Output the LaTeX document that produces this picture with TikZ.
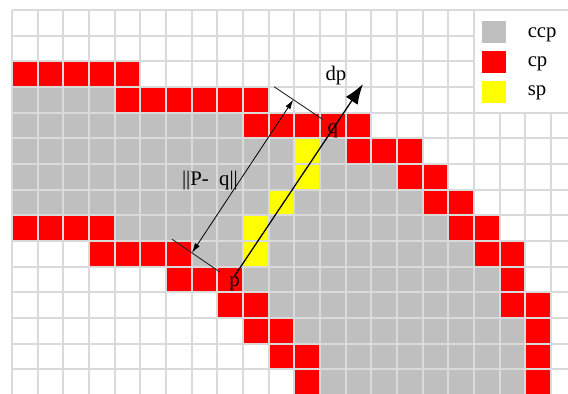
\documentclass[tikz,border=0pt]{standalone}
\usepackage{fontspec}
\setmainfont{Liberation Serif}
\usetikzlibrary{arrows.meta, positioning}
\definecolor{ccpgray}{RGB}{191,191,191}
\definecolor{gridgray}{RGB}{218,218,218}
\definecolor{cpred}{RGB}{255,0,0}
\definecolor{spyellow}{RGB}{255,255,0}

\begin{document}
\begin{tikzpicture}[
      gridline/.style={draw=gridgray, line width=2.4pt},
      tickline/.style={draw=black!85, line width=1pt},
      distarr/.style={{Latex[length=0.38cm,width=0.22cm]}-{Latex[length=0.38cm,width=0.22cm]}, line width=0.9pt},
      dirarr/.style={-{Latex[length=0.78cm,width=0.55cm]}, line width=1.4pt},
      lbl/.style={font=\fontsize{23}{26}\selectfont, inner sep=1pt},
      legendkey/.style={minimum width=0.94cm, minimum height=0.86cm, inner sep=0pt}
    ]
    \useasboundingbox (-0.47,0.39) rectangle (21.66,-14.93);
    \clip (-0.47,0.39) rectangle (21.66,-14.93);

    \foreach \r/\a/\b in {3/0/3, 4/0/8, 5/0/12, 6/0/14, 7/0/15, 8/4/16, 9/7/17,
                          10/9/18, 11/10/18, 12/11/19, 13/12/19, 14/12/19}
      \fill[ccpgray] (\a,-\r) rectangle (\b+1,-\r-1);
    \foreach \r/\a/\b in {2/0/4, 3/4/9, 4/9/13, 5/13/15, 6/15/16, 7/16/17, 8/0/3, 8/17/18,
                          9/3/6, 9/18/19, 10/6/8, 10/19/19, 11/8/9, 11/19/20, 12/9/10,
                          12/20/20, 13/10/11, 13/20/20, 14/11/11, 14/20/20}
      \fill[cpred] (\a,-\r) rectangle (\b+1,-\r-1);
    \foreach \c/\r in {11/5, 11/6, 10/7, 9/8, 9/9}
      \fill[spyellow] (\c,-\r) rectangle (\c+1,-\r-1);

    \foreach \i in {0,...,22} \draw[gridline] (\i,0) -- (\i,-15);
    \foreach \j in {0,...,15} \draw[gridline] (0,-\j) -- (22,-\j);

    \fill[white] (18.045,-0.045) rectangle (22,-3.955);
    \node[legendkey, fill=ccpgray] (keyccp) at (18.76,-0.86) {};
    \node[legendkey, fill=cpred, below=0.3cm of keyccp] (keycp) {};
    \node[legendkey, fill=spyellow, below=0.3cm of keycp] (keysp) {};
    \node[lbl, anchor=base west] (txtccp) at (20.05,-1.08) {ccp};
    \node[lbl, anchor=base west] (txtcp) at (20.05,-2.21) {cp};
    \node[lbl, anchor=base west] (txtsp) at (20.05,-3.35) {sp};

    \node[lbl, anchor=base] (p) at (8.67,-10.78) {p};
    \node[lbl, anchor=base] (q) at (12.5,-4.80) {q};
    \node[lbl, anchor=base] (dp) at (12.62,-2.73) {dp};
    \node[lbl, anchor=base] (dist) at (7.71,-6.82) {||P-\hspace{0.5em}q||};

    \coordinate (tickPa) at (6.23,-8.93);
    \coordinate (tickPb) at (8.10,-10.21);
    \coordinate (tickQa) at (10.21,-2.99);
    \coordinate (tickQb) at (12.10,-4.26);
    \coordinate (distP) at (7.01,-9.46);
    \coordinate (distQ) at (10.96,-3.49);
    \coordinate (dptip) at (13.67,-2.885);

    \draw[tickline] (tickPa) -- (tickPb);
    \draw[tickline] (tickQa) -- (tickQb);
    \draw[distarr] (distP) -- (distQ);
    \draw[dirarr] (p.north) -- (dptip);
  \end{tikzpicture}
\end{document}
